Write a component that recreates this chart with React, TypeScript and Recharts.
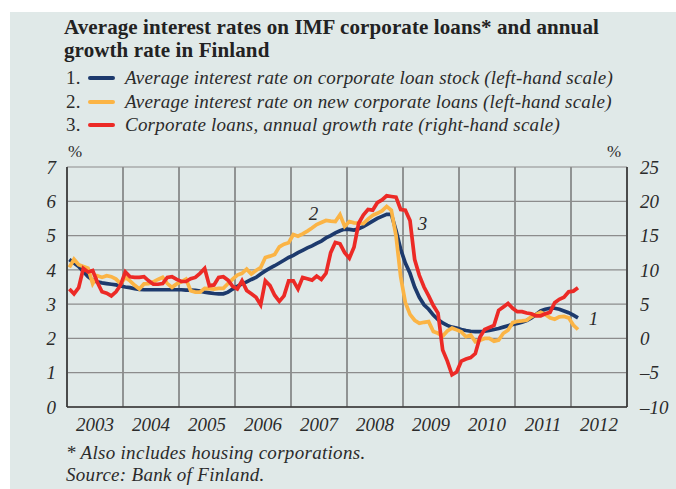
import React from 'react';
import {
  LineChart,
  Line,
  XAxis,
  YAxis,
  CartesianGrid,
  ReferenceDot,
} from 'recharts';

// Monthly observations, Jan 2003 .. Feb 2012
const START_YEAR = 2003;

// 1. Average interest rate on corporate loan stock (%, left scale)
const loanStock = [
  4.3, 4.2, 4.1, 3.95, 3.8, 3.7, 3.65, 3.62, 3.6, 3.58, 3.56, 3.53,
  3.5, 3.48, 3.45, 3.43, 3.42, 3.42, 3.42, 3.42, 3.42, 3.42, 3.42, 3.42,
  3.42, 3.41, 3.41, 3.4, 3.38, 3.35, 3.33, 3.31, 3.3, 3.3, 3.35, 3.44,
  3.52, 3.59, 3.65, 3.72, 3.78, 3.88, 3.97, 4.05, 4.12, 4.2, 4.28, 4.36,
  4.42, 4.5, 4.57, 4.64, 4.7, 4.77, 4.84, 4.93, 5.0, 5.08, 5.14, 5.19,
  5.18, 5.16, 5.2, 5.26, 5.34, 5.42, 5.5, 5.56, 5.62, 5.62, 5.15, 4.6,
  4.2, 3.9, 3.5, 3.2, 2.98, 2.85, 2.68, 2.55, 2.45, 2.38, 2.33, 2.3,
  2.26, 2.23, 2.21, 2.2, 2.2, 2.21, 2.23, 2.26, 2.29, 2.33, 2.37, 2.41,
  2.44, 2.47, 2.52, 2.6, 2.7, 2.8, 2.85, 2.88, 2.88, 2.85, 2.8, 2.75,
  2.68, 2.6,
];

// 2. Average interest rate on new corporate loans (%, left scale)
const newLoans = [
  4.07, 4.31, 4.15, 4.1, 4.05, 3.6, 3.83, 3.78, 3.83, 3.8, 3.73, 3.59,
  3.78, 3.68, 3.55, 3.44, 3.59, 3.6, 3.65, 3.72, 3.78, 3.6, 3.49, 3.59,
  3.65, 3.73, 3.39, 3.35, 3.35, 3.46, 3.45, 3.44, 3.46, 3.46, 3.6, 3.73,
  3.85, 3.9, 4.02, 3.88, 3.98, 4.07, 4.36, 4.4, 4.45, 4.67, 4.75, 4.79,
  5.03, 4.98, 5.05, 5.13, 5.22, 5.32, 5.38, 5.44, 5.42, 5.41, 5.61, 5.27,
  5.41, 5.37, 5.36, 5.35, 5.48, 5.59, 5.65, 5.72, 5.85, 5.74, 5.0, 3.8,
  3.05, 2.7, 2.53, 2.44, 2.47, 2.49, 2.2, 2.15, 2.07, 2.22, 2.3, 2.25,
  2.19, 2.05, 2.1, 1.9, 1.95, 2.0, 2.0, 1.92, 1.95, 2.15, 2.24, 2.46,
  2.5, 2.51, 2.53, 2.63, 2.7, 2.76, 2.7, 2.6, 2.56, 2.63, 2.64, 2.6,
  2.39, 2.26,
];

// 3. Corporate loans, annual growth rate (%, right scale)
const loanGrowth = [
  7.2, 6.5, 7.4, 10.2, 9.7, 9.9, 8.2, 6.8, 6.6, 6.2, 6.8, 7.8,
  9.7, 9.0, 8.9, 8.9, 9.0, 8.4, 7.9, 7.9, 8.0, 8.9, 9.0, 8.6,
  8.3, 8.3, 8.7, 8.9, 9.5, 10.2, 7.7, 7.8, 8.9, 9.0, 8.5, 7.6,
  7.2, 8.4, 7.0, 6.5, 6.0, 4.9, 8.4, 7.7, 6.3, 5.4, 6.2, 8.4,
  8.4, 7.2, 8.9, 8.7, 8.5, 9.1, 8.6, 9.5, 12.5, 14.0, 13.8, 12.5,
  11.7, 13.3, 16.8, 18.0, 18.8, 18.7, 19.8, 20.2, 20.8, 20.7, 20.6, 18.8,
  18.7, 17.2, 11.5, 9.2, 7.5, 6.2, 4.8, 3.7, -1.7, -3.3, -5.3, -4.9,
  -3.3, -3.0, -2.8, -2.2, 0.2, 1.3, 1.6, 1.9, 4.1, 4.6, 5.1, 4.4,
  3.9, 3.9, 3.7, 3.6, 3.3, 3.3, 3.6, 3.8, 5.2, 5.7, 6.0, 6.8,
  6.9, 7.4,
];

const yearTicks = [2003, 2004, 2005, 2006, 2007, 2008, 2009, 2010, 2011, 2012, 2013];
const leftTicks = [0, 1, 2, 3, 4, 5, 6, 7];
const rightTicks = [-10, -5, 0, 5, 10, 15, 20, 25];

const legendItems = [
  { n: '1.', color: '#1d3a6d', text: 'Average interest rate on corporate loan stock (left-hand scale)' },
  { n: '2.', color: '#fbb445', text: 'Average interest rate on new corporate loans (left-hand scale)' },
  { n: '3.', color: '#ec2a26', text: 'Corporate loans, annual growth rate (right-hand scale)' },
];

const data = loanStock.map((v, i) => ({
  t: START_YEAR + (i + 0.5) / 12,
  stock: v,
  fresh: newLoans[i],
  growth: loanGrowth[i],
}));

const SERIF = '"Liberation Serif", "Times New Roman", serif';

const YearTick = ({ x, y, payload }: any) => {
  if (payload.value >= 2013) return null;
  return (
    <text
      x={x + 28}
      y={y + 16}
      textAnchor="middle"
      fontFamily={SERIF}
      fontStyle="italic"
      fontSize={19}
      fill="#2b2b2b"
    >
      {payload.value}
    </text>
  );
};

const fmtRight = (v: number) => (v < 0 ? `\u2013${Math.abs(v)}` : `${v}`);

const tickStyle = { fontFamily: SERIF, fontStyle: 'italic', fontSize: 19, fill: '#2b2b2b' };

const lineLabel = (txt: string) => (props: any) => {
  const { cx, cy } = props;
  return (
    <text x={cx} y={cy} textAnchor="middle" fontFamily={SERIF} fontStyle="italic" fontSize={19} fill="#2b2b2b">
      {txt}
    </text>
  );
};

export default function App() {
  return (
    <div style={{ position: 'absolute', left: 0, top: 0, width: 676, height: 489, background: '#ffffff', overflow: 'hidden' }}>
      <div style={{ position: 'absolute', left: 10, top: 12, width: 666, height: 477, background: '#e0e9e8' }} />

      <div
        style={{
          position: 'absolute',
          left: 64,
          top: 16,
          fontFamily: SERIF,
          fontWeight: 'bold',
          fontSize: 21,
          letterSpacing: 0.1,
          lineHeight: '23px',
          color: '#222',
          whiteSpace: 'nowrap',
        }}
      >
        Average interest rates on IMF corporate loans* and annual
        <br />
        growth rate in Finland
      </div>

      {legendItems.map((it, i) => (
        <div
          key={it.n}
          style={{
            position: 'absolute',
            left: 66,
            top: 66 + i * 23.5,
            height: 24,
            display: 'flex',
            alignItems: 'center',
            fontFamily: SERIF,
            fontStyle: 'italic',
            fontSize: 19,
            letterSpacing: 0.22,
            color: '#2b2b2b',
            whiteSpace: 'nowrap',
          }}
        >
          <span style={{ width: 22, fontStyle: 'normal' }}>{it.n}</span>
          <span style={{ display: 'inline-block', width: 27, height: 4, background: it.color, borderRadius: 2, marginRight: 10 }} />
          <span>{it.text}</span>
        </div>
      ))}

      <div style={{ position: 'absolute', left: 68, top: 142, fontFamily: SERIF, fontSize: 17, color: '#2b2b2b' }}>%</div>
      <div style={{ position: 'absolute', left: 607, top: 142, fontFamily: SERIF, fontSize: 17, color: '#2b2b2b' }}>%</div>

      <div style={{ position: 'absolute', left: 0, top: 0 }}>
        <LineChart
          width={676}
          height={489}
          data={data}
          margin={{ top: 167, right: 4, bottom: 52, left: 17 }}
        >
          <CartesianGrid horizontal={false} stroke="#5a5a5a" strokeWidth={1.2} yAxisId="left" />
          <CartesianGrid vertical={false} stroke="#8c8c8c" strokeWidth={1.2} yAxisId="left" />
          <XAxis
            dataKey="t"
            type="number"
            domain={[2003, 2013]}
            ticks={yearTicks}
            allowDataOverflow
            tick={<YearTick />}
            tickLine={false}
            axisLine={{ stroke: '#333', strokeWidth: 1.5 }}
            height={30}
            interval={0}
          />
          <YAxis
            yAxisId="left"
            domain={[0, 7]}
            ticks={leftTicks}
            width={50}
            tickLine={false}
            tickMargin={5}
            axisLine={{ stroke: '#333', strokeWidth: 1.5 }}
            tick={tickStyle}
            interval={0}
          />
          <YAxis
            yAxisId="right"
            orientation="right"
            domain={[-10, 25]}
            ticks={rightTicks}
            width={45}
            tickLine={false}
            tickMargin={7}
            axisLine={{ stroke: '#333', strokeWidth: 1.5 }}
            tick={tickStyle}
            tickFormatter={fmtRight}
            interval={0}
          />
          <Line
            yAxisId="left"
            dataKey="stock"
            stroke="#1d3a6d"
            strokeWidth={3.7}
            dot={false}
            isAnimationActive={false}
          />
          <Line
            yAxisId="left"
            dataKey="fresh"
            stroke="#fbb445"
            strokeWidth={3.7}
            dot={false}
            isAnimationActive={false}
          />
          <Line
            yAxisId="right"
            dataKey="growth"
            stroke="#ec2a26"
            strokeWidth={3.7}
            dot={false}
            isAnimationActive={false}
          />
          <ReferenceDot yAxisId="left" x={2007.4} y={5.45} r={0} shape={lineLabel('2')} />
          <ReferenceDot yAxisId="left" x={2009.35} y={5.15} r={0} shape={lineLabel('3')} />
          <ReferenceDot yAxisId="left" x={2012.4} y={2.4} r={0} shape={lineLabel('1')} />
        </LineChart>
      </div>

      <div
        style={{
          position: 'absolute',
          left: 66,
          top: 442,
          fontFamily: SERIF,
          fontStyle: 'italic',
          fontSize: 19,
          letterSpacing: 0.3,
          lineHeight: '22px',
          color: '#2b2b2b',
        }}
      >
        * Also includes housing corporations.
        <br />
        Source: Bank of Finland.
      </div>
    </div>
  );
}
